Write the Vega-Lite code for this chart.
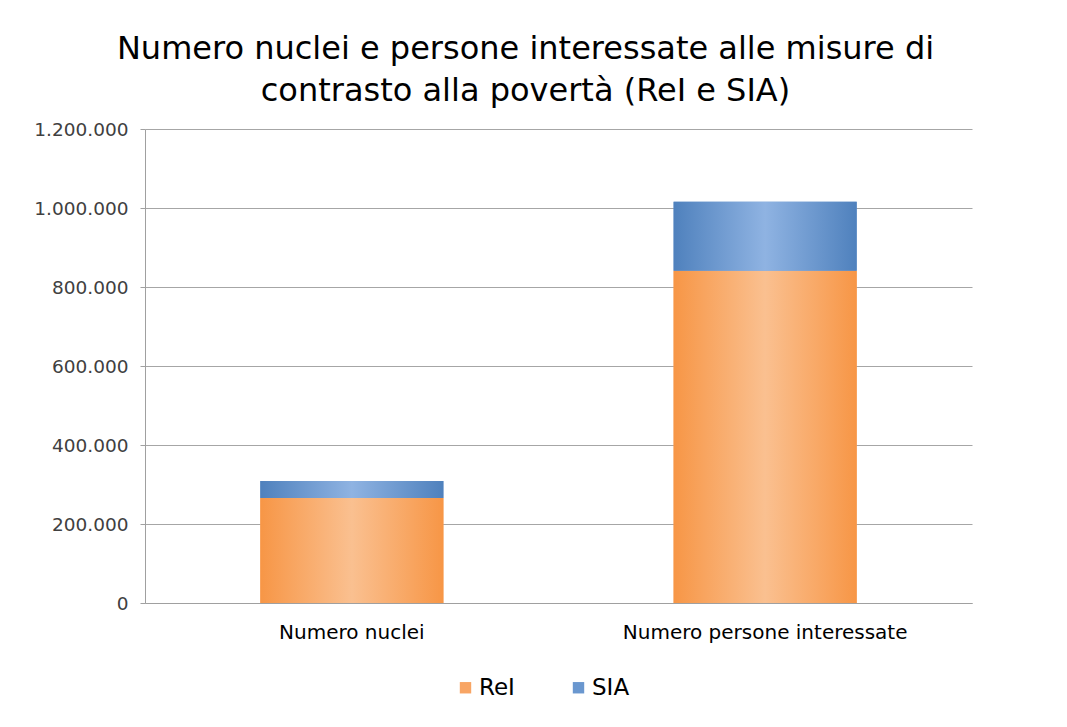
{
  "$schema": "https://vega.github.io/schema/vega-lite/v6.json",
  "autosize": {"type": "none"},
  "width": 827,
  "height": 474,
  "padding": {"left": 145, "top": 129, "right": 95, "bottom": 124},
  "background": "white",
  "title": {
    "text": ["Numero nuclei e persone interessate alle misure di", "contrasto alla povertà (ReI e SIA)"],
    "font": "DejaVu Sans",
    "fontSize": 32,
    "fontWeight": "normal",
    "color": "#000000",
    "anchor": "middle",
    "dx": -33,
    "offset": 12,
    "lineHeight": 42
  },
  "data": {
    "values": [
      {"categoria": "Numero nuclei", "serie": "ReI", "ord": 1, "valore": 266000},
      {"categoria": "Numero nuclei", "serie": "SIA", "ord": 2, "valore": 43000},
      {"categoria": "Numero persone interessate", "serie": "ReI", "ord": 1, "valore": 841000},
      {"categoria": "Numero persone interessate", "serie": "SIA", "ord": 2, "valore": 175000}
    ]
  },
  "encoding": {
    "x": {
      "field": "categoria",
      "type": "nominal",
      "sort": null,
      "scale": {"paddingInner": 0.557, "paddingOuter": 0.279},
      "axis": {
        "title": null,
        "labelAngle": 0,
        "labelFont": "DejaVu Sans",
        "labelFontSize": 20,
        "labelLimit": 0,
        "labelColor": "#000000",
        "labelPadding": 19,
        "ticks": false,
        "domainColor": "#A0A0A0",
        "grid": false
      }
    },
    "y": {
      "field": "valore",
      "type": "quantitative",
      "stack": "zero",
      "scale": {"domain": [0, 1200000], "nice": false},
      "axis": {
        "title": null,
        "values": [0, 200000, 400000, 600000, 800000, 1000000, 1200000],
        "format": ",d",
        "labelFont": "DejaVu Sans",
        "labelFontSize": 18.5,
        "labelColor": "#404040",
        "labelPadding": 12,
        "tickSize": 5,
        "tickColor": "#A0A0A0",
        "domainColor": "#A0A0A0",
        "gridColor": "#A6A6A6"
      }
    },
    "order": {"field": "ord", "type": "quantitative"}
  },
  "layer": [
    {
      "mark": {"type": "bar"},
      "encoding": {
        "color": {
          "field": "serie",
          "type": "nominal",
          "scale": {"domain": ["ReI", "SIA"], "range": ["#F8A564", "#6A97CF"]},
          "legend": {
            "title": null,
            "orient": "none",
            "legendX": 309,
            "legendY": 547,
            "direction": "horizontal",
            "labelFont": "DejaVu Sans",
            "labelFontSize": 23,
            "labelColor": "#000000",
            "symbolType": "square",
            "symbolSize": 130,
            "columnPadding": 52,
            "labelOffset": 2
          }
        }
      }
    },
    {
      "mark": {"type": "bar"},
      "encoding": {
        "detail": {"field": "serie"},
        "fill": {
          "condition": {
            "test": "datum.serie === 'ReI'",
            "value": {
              "gradient": "linear", "x1": 0, "y1": 0, "x2": 1, "y2": 0,
              "stops": [
                {"offset": 0, "color": "#F79646"},
                {"offset": 0.5, "color": "#FAC090"},
                {"offset": 1, "color": "#F79646"}
              ]
            }
          },
          "value": {
            "gradient": "linear", "x1": 0, "y1": 0, "x2": 1, "y2": 0,
            "stops": [
              {"offset": 0, "color": "#4F81BD"},
              {"offset": 0.5, "color": "#8FB3E2"},
              {"offset": 1, "color": "#4F81BD"}
            ]
          }
        }
      }
    }
  ],
  "config": {
    "locale": {
      "number": {"decimal": ",", "thousands": ".", "grouping": [3], "currency": ["€", ""]}
    },
    "view": {"stroke": null}
  }
}
